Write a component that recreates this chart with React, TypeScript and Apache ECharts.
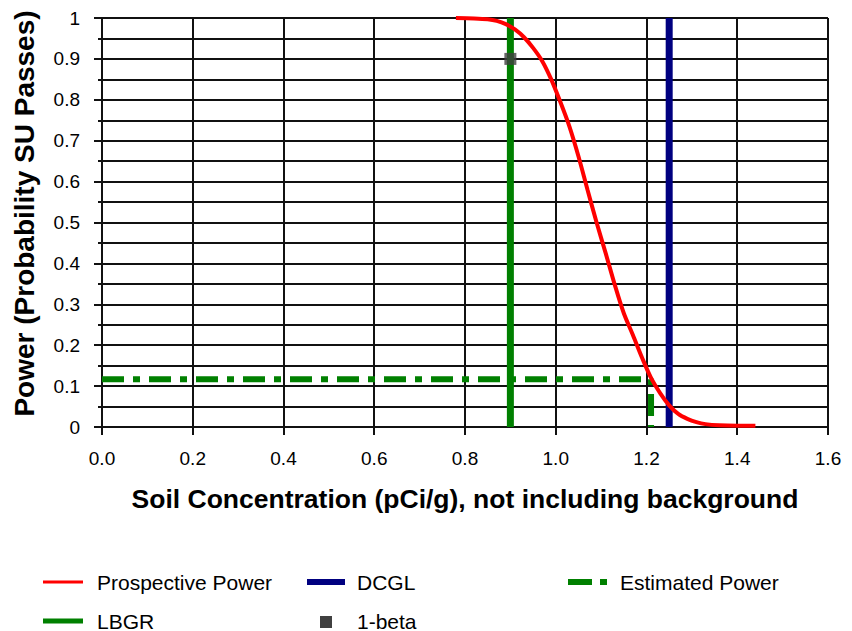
import React, { useEffect, useRef } from "react";
import * as echarts from "echarts";

const xTicks = ["0.0", "0.2", "0.4", "0.6", "0.8", "1.0", "1.2", "1.4", "1.6"];
const yTicks = ["0", "0.1", "0.2", "0.3", "0.4", "0.5", "0.6", "0.7", "0.8", "0.9", "1"];

// Prospective power curve (concentration, power)
const prospectiveX = [0.78, 0.82, 0.85, 0.87, 0.89, 0.91, 0.93, 0.95, 0.97, 0.99, 1.01, 1.03, 1.05, 1.07, 1.09, 1.11, 1.13, 1.15, 1.17, 1.19, 1.21, 1.23, 1.25, 1.27, 1.29, 1.31, 1.33, 1.36, 1.4, 1.44];
const prospectiveY = [1.0, 0.999, 0.997, 0.993, 0.985, 0.972, 0.953, 0.927, 0.895, 0.85, 0.795, 0.735, 0.662, 0.58, 0.5, 0.425, 0.348, 0.278, 0.225, 0.17, 0.12, 0.083, 0.053, 0.032, 0.02, 0.012, 0.007, 0.004, 0.003, 0.003];

const dcglX = [1.25, 1.25];
const dcglY = [0, 1];
const lbgrX = [0.9, 0.9];
const lbgrY = [0, 1];
const estimatedX = [0, 1.21, 1.21];
const estimatedY = [0.117, 0.117, 0];
const betaX = [0.9];
const betaY = [0.9];

const zip = (xs: number[], ys: number[]) => xs.map((x, i) => [x, ys[i]]);

const FONT = "'Liberation Sans', Arial, sans-serif";

export default function App() {
  const ref = useRef<HTMLDivElement>(null);
  useEffect(() => {
    if (!ref.current) return;
    const chart = echarts.init(ref.current, null, { renderer: "svg" });
    const legendText = (x: number, y: number, t: string) => ({
      type: "text",
      x,
      y,
      style: { text: t, fill: "#000", font: `21px ${FONT}`, textVerticalAlign: "middle" },
    });
    chart.setOption({
      animation: false,
      backgroundColor: "#fff",
      grid: { left: 102, right: 24, top: 18, bottom: 204, containLabel: false },
      xAxis: {
        type: "value",
        min: 0,
        max: 1.6,
        interval: 0.2,
        name: "Soil Concentration (pCi/g), not including background",
        nameLocation: "middle",
        nameGap: 58,
        nameTextStyle: { fontFamily: FONT, fontSize: 26.5, fontWeight: "bold", color: "#000" },
        axisLine: { show: true, lineStyle: { color: "#111", width: 2 } },
        axisTick: { show: true, length: 8, lineStyle: { color: "#111", width: 2 } },
        axisLabel: {
          margin: 22,
          fontFamily: FONT,
          fontSize: 19,
          color: "#000",
          formatter: (v: number) => xTicks[Math.round(v / 0.2)] ?? v.toFixed(1),
        },
        splitLine: { show: true, lineStyle: { color: "#111", width: 2 } },
      },
      yAxis: {
        type: "value",
        min: 0,
        max: 1,
        interval: 0.1,
        name: "Power (Probability SU Passes)",
        nameLocation: "middle",
        nameGap: 64,
        nameTextStyle: { fontFamily: FONT, fontSize: 28, fontWeight: "bold", color: "#000", padding: [0, 0, 0, 18] },
        axisLine: { show: true, lineStyle: { color: "#111", width: 2 } },
        axisTick: { show: true, length: 8, lineStyle: { color: "#111", width: 2 } },
        minorTick: { show: true, splitNumber: 2, length: 4, lineStyle: { color: "#111", width: 2 } },
        axisLabel: {
          margin: 22,
          fontFamily: FONT,
          fontSize: 19,
          color: "#000",
          formatter: (v: number) => yTicks[Math.round(v * 10)] ?? String(v),
        },
        splitLine: { show: true, lineStyle: { color: "#111", width: 2 } },
        minorSplitLine: { show: true, lineStyle: { color: "#111", width: 2 } },
      },
      series: [
        {
          name: "LBGR",
          type: "line",
          data: zip(lbgrX, lbgrY),
          symbol: "none",
          lineStyle: { color: "#008000", width: 7 },
          z: 3,
        },
        {
          name: "DCGL",
          type: "line",
          data: zip(dcglX, dcglY),
          symbol: "none",
          lineStyle: { color: "#000080", width: 7 },
          z: 3,
        },
        {
          name: "Estimated Power",
          type: "line",
          data: zip(estimatedX, estimatedY),
          symbol: "none",
          lineStyle: { color: "#008000", width: 6, type: [22, 9, 7, 9], cap: "butt" },
          z: 4,
        },
        {
          name: "Prospective Power",
          type: "line",
          data: zip(prospectiveX, prospectiveY),
          symbol: "none",
          smooth: 0.3,
          lineStyle: { color: "#ff0000", width: 4 },
          z: 5,
        },
        {
          name: "1-beta",
          type: "scatter",
          data: zip(betaX, betaY),
          symbol: "rect",
          symbolSize: 12,
          itemStyle: { color: "#404040" },
          z: 6,
        },
      ],
      graphic: [
        { type: "line", shape: { x1: 43, y1: 582, x2: 83, y2: 582 }, style: { stroke: "#ff0000", lineWidth: 3 } },
        legendText(97, 582, "Prospective Power"),
        { type: "line", shape: { x1: 307, y1: 582, x2: 345, y2: 582 }, style: { stroke: "#000080", lineWidth: 6 } },
        legendText(357, 582, "DCGL"),
        { type: "line", shape: { x1: 568, y1: 582, x2: 592, y2: 582 }, style: { stroke: "#008000", lineWidth: 6 } },
        { type: "line", shape: { x1: 600, y1: 582, x2: 607, y2: 582 }, style: { stroke: "#008000", lineWidth: 6 } },
        legendText(620, 582, "Estimated Power"),
        { type: "line", shape: { x1: 43, y1: 621, x2: 83, y2: 621 }, style: { stroke: "#008000", lineWidth: 5 } },
        legendText(97, 621, "LBGR"),
        { type: "rect", shape: { x: 320, y: 616, width: 12, height: 12 }, style: { fill: "#404040" } },
        legendText(357, 621, "1-beta"),
      ],
    });
    return () => chart.dispose();
  }, []);
  return (
    <div
      ref={ref}
      style={{ position: "fixed", left: 0, top: 0, width: 852, height: 631, background: "#fff" }}
    />
  );
}
